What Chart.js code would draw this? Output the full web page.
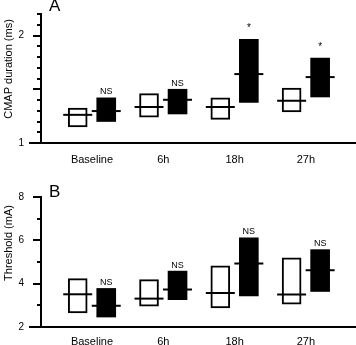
<!DOCTYPE html>
<html><head><meta charset="utf-8">
<script src="https://cdn.jsdelivr.net/npm/chart.js@4/dist/chart.umd.min.js"></script>
<style>
html,body{margin:0;padding:0;background:#fff;}
#wrap{position:relative;width:356px;height:345px;overflow:hidden;background:#fff;}
#cA{position:absolute;left:0;top:0;}
#cB{position:absolute;left:0;top:170px;}
</style></head><body>
<div id="wrap"><canvas id="cA" width="356" height="170"></canvas><canvas id="cB" width="356" height="175"></canvas></div>
<script>
// ---------- DATA ----------
const categories = ['Baseline', '6h', '18h', '27h'];

// Panel A: CMAP duration (ms)
const cmapCtrlLow   = [1.15, 1.24, 1.22, 1.29];
const cmapCtrlHigh  = [1.325, 1.46, 1.42, 1.51];
const cmapCtrlMean  = [1.262, 1.335, 1.335, 1.393];
const cmapTreatLow  = [1.20, 1.27, 1.377, 1.428];
const cmapTreatHigh = [1.42, 1.50, 1.965, 1.79];
const cmapTreatMean = [1.297, 1.402, 1.641, 1.613];
const cmapSig       = ['NS', 'NS', '*', '*'];
const cmapTickLabels = [1, 2];
const cmapMajorTicks = [1.5, 2];
const cmapMinorTicks = [1.1, 1.2, 1.3, 1.4, 1.6, 1.7, 1.8, 1.9, 2.1, 2.2];

// Panel B: Threshold (mA)
const thrCtrlLow   = [2.65, 2.96, 2.88, 3.05];
const thrCtrlHigh  = [4.23, 4.19, 4.82, 5.19];
const thrCtrlMean  = [3.51, 3.31, 3.57, 3.50];
const thrTreatLow  = [2.46, 3.26, 3.44, 3.64];
const thrTreatHigh = [3.78, 4.58, 6.11, 5.57];
const thrTreatMean = [2.98, 3.73, 4.93, 4.62];
const thrSig       = ['NS', 'NS', 'NS', 'NS'];
const thrTickLabels = [2, 4, 6, 8];
const thrMajorTicks = [4, 6, 8];
const thrMinorTicks = [3, 5, 7];

// ---------- STYLE ----------
const FONT = '"Liberation Sans", Arial, Helvetica, sans-serif';
const pairOffset = 0.2;

function zeroPad(s) { s.paddingTop = 0; s.paddingBottom = 0; s.paddingLeft = 0; s.paddingRight = 0; }

function panelPlugin(cfg) {
  return {
    id: 'panel' + cfg.letter,
    afterDraw(chart) {
      const ctx = chart.ctx, ca = chart.chartArea, y = chart.scales.y;
      ctx.save();
      ctx.strokeStyle = '#000';
      ctx.lineWidth = 2;
      ctx.beginPath();
      ctx.moveTo(ca.left - 12, ca.bottom);
      ctx.lineTo(ca.right, ca.bottom);
      ctx.stroke();
      cfg.major.forEach(v => {
        const p = Math.round(y.getPixelForValue(v));
        ctx.beginPath(); ctx.moveTo(ca.left - 8, p); ctx.lineTo(ca.left, p); ctx.stroke();
      });
      cfg.minor.forEach(v => {
        const p = Math.round(y.getPixelForValue(v));
        ctx.beginPath(); ctx.moveTo(ca.left - 4, p); ctx.lineTo(ca.left, p); ctx.stroke();
      });
      // significance labels
      ctx.fillStyle = '#000';
      ctx.textAlign = 'center';
      ctx.textBaseline = 'middle';
      const meta = chart.getDatasetMeta(1);
      cfg.sig.forEach((s, i) => {
        const bar = meta.data[i];
        const top = y.getPixelForValue(cfg.high[i]);
        ctx.font = (s === '*' ? '10px ' : '9px ') + FONT;
        ctx.fillText(s, bar.x, top - (s === '*' ? 11 : 6));
      });
      // panel letter
      ctx.font = '17px ' + FONT;
      ctx.textAlign = 'left';
      ctx.textBaseline = 'alphabetic';
      ctx.fillText(cfg.letter, ca.left + 8, cfg.letterY);
      // axis title
      ctx.translate(9, cfg.titleY);
      ctx.rotate(-Math.PI / 2);
      ctx.font = '11px ' + FONT;
      ctx.textAlign = 'center';
      ctx.textBaseline = 'middle';
      ctx.fillText(cfg.title, 0, 0);
      ctx.restore();
    }
  };
}

function makeChart(el, d) {
  const ctrlBars = categories.map((c, i) => ({ x: i - pairOffset, y: [d.ctrlLow[i], d.ctrlHigh[i]] }));
  const treatBars = categories.map((c, i) => ({ x: i + pairOffset, y: [d.treatLow[i], d.treatHigh[i]] }));
  const ctrlMeans = categories.map((c, i) => ({ x: i - pairOffset, y: d.ctrlMean[i] }));
  const treatMeans = categories.map((c, i) => ({ x: i + pairOffset, y: d.treatMean[i] }));
  const meanStyle = {
    type: 'line', showLine: false, pointStyle: 'line', pointRadius: 14.5, pointHoverRadius: 14.5,
    pointBorderWidth: 2, pointBorderColor: '#000', pointBackgroundColor: '#000', order: 0
  };
  return new Chart(el, {
    type: 'bar',
    data: {
      datasets: [
        { data: ctrlBars, backgroundColor: '#fff', borderColor: '#000', borderWidth: 2, borderSkipped: false, barThickness: 19, grouped: false, order: 1 },
        { data: treatBars, backgroundColor: '#000', borderColor: '#000', borderWidth: 0, borderSkipped: false, barThickness: 19, grouped: false, order: 1 },
        Object.assign({ data: ctrlMeans }, meanStyle),
        Object.assign({ data: treatMeans }, meanStyle)
      ]
    },
    options: {
      responsive: false, animation: false, devicePixelRatio: 1,
      layout: { autoPadding: false, padding: { top: d.padTop, left: 0, right: 0, bottom: 0 } },
      plugins: { legend: { display: false }, tooltip: { enabled: false } },
      events: [],
      scales: {
        x: {
          type: 'linear', min: -0.715, max: 3.703, offset: false,
          grid: { display: false, drawTicks: false },
          border: { display: false },
          afterBuildTicks: s => { s.ticks = categories.map((c, i) => ({ value: i })); },
          afterFit: s => { s.height = d.xHeight; zeroPad(s); },
          ticks: { padding: d.xPad, color: '#000', font: { size: 11, family: FONT }, maxRotation: 0, autoSkip: false,
                   callback: v => categories[v] }
        },
        y: {
          type: 'linear', min: d.yMin, max: d.yMax,
          grid: { display: false, drawTicks: false },
          border: { display: true, width: 2, color: '#000' },
          afterBuildTicks: s => { s.ticks = d.tickLabels.map(v => ({ value: v })); },
          afterFit: s => { s.width = 41; zeroPad(s); },
          ticks: { padding: 17, color: '#000', font: { size: 10, family: FONT }, callback: v => String(v) }
        }
      }
    },
    plugins: [panelPlugin(d.panel)]
  });
}

makeChart(document.getElementById('cA'), {
  ctrlLow: cmapCtrlLow, ctrlHigh: cmapCtrlHigh, ctrlMean: cmapCtrlMean,
  treatLow: cmapTreatLow, treatHigh: cmapTreatHigh, treatMean: cmapTreatMean,
  yMin: 1, yMax: 2.2, tickLabels: cmapTickLabels, padTop: 14, xHeight: 27, xPad: 10,
  panel: { letter: 'A', letterY: 11, title: 'CMAP duration (ms)', titleY: 69,
           major: cmapMajorTicks, minor: cmapMinorTicks, sig: cmapSig, high: cmapTreatHigh }
});

makeChart(document.getElementById('cB'), {
  ctrlLow: thrCtrlLow, ctrlHigh: thrCtrlHigh, ctrlMean: thrCtrlMean,
  treatLow: thrTreatLow, treatHigh: thrTreatHigh, treatMean: thrTreatMean,
  yMin: 2, yMax: 8, tickLabels: thrTickLabels, padTop: 27, xHeight: 18, xPad: 8,
  panel: { letter: 'B', letterY: 27, title: 'Threshold (mA)', titleY: 73,
           major: thrMajorTicks, minor: thrMinorTicks, sig: thrSig, high: thrTreatHigh }
});
</script>
</body></html>
